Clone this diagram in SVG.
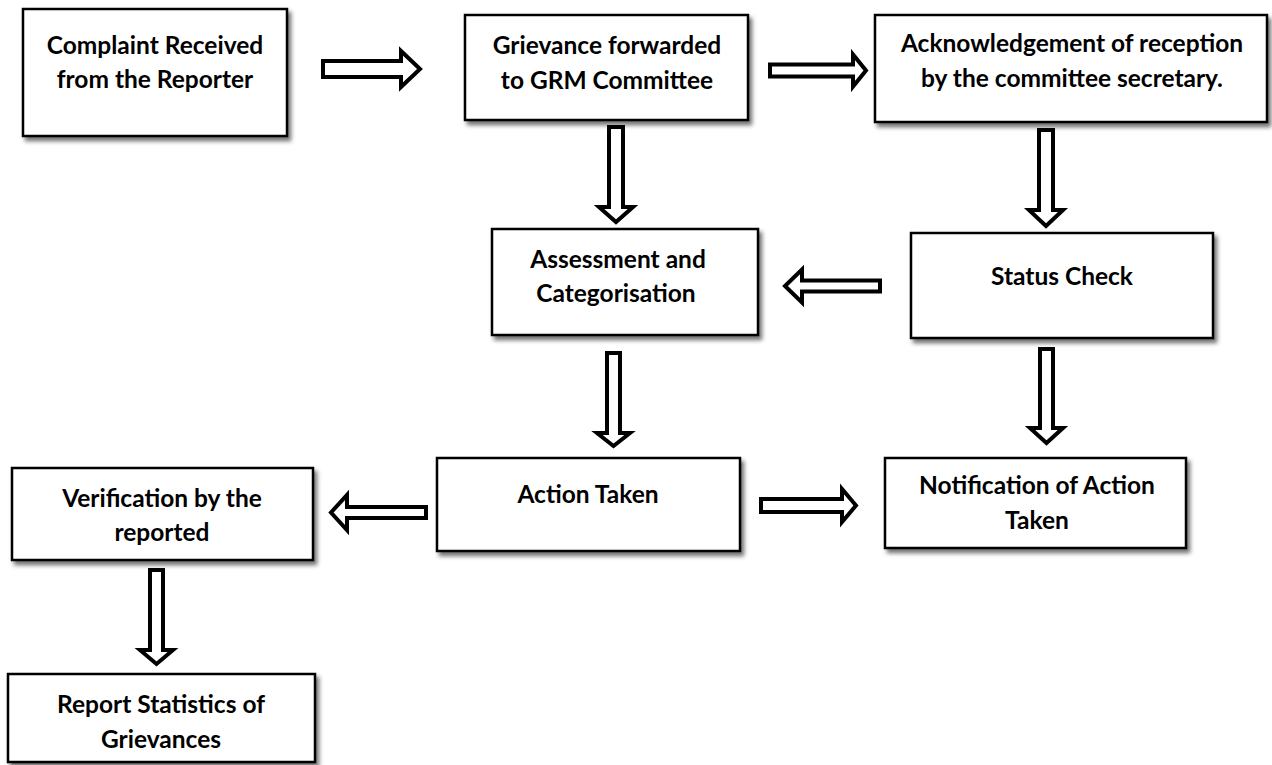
<svg xmlns="http://www.w3.org/2000/svg" width="1272" height="765" viewBox="0 0 1272 765">
<defs>
<filter id="sh" x="-5%" y="-5%" width="115%" height="125%">
<feDropShadow dx="3" dy="4" stdDeviation="2.2" flood-color="#000" flood-opacity="0.55"/>
</filter>
</defs>
<style>
.box{fill:#fff;stroke:#000;stroke-width:2.5;filter:url(#sh)}
.t{font-family:Lato,"Liberation Sans",sans-serif;font-weight:bold;font-size:24.5px;fill:#000;text-anchor:middle}
.arr{fill:#fff;stroke:#000;stroke-width:4;stroke-linejoin:miter;stroke-miterlimit:10}
</style>
<rect width="1272" height="765" fill="#fff"/>
<g id="connectors">
<path class="arr" d="M323,61 L401,61 L401,51 L420,69 L401,87 L401,77 L323,77 Z"/>
<path class="arr" d="M770,64.5 L853,64.5 L853,54.5 L866,70.5 L853,86.5 L853,76.5 L770,76.5 Z"/>
<path class="arr" d="M609,127 L623,127 L623,207 L633,207 L616,222 L599,207 L609,207 Z"/>
<path class="arr" d="M880,280.5 L802,280.5 L802,269.5 L785,286 L802,302.5 L802,291.5 L880,291.5 Z"/>
<path class="arr" d="M1039,130 L1053,130 L1053,210 L1063,210 L1046,226 L1029,210 L1039,210 Z"/>
<path class="arr" d="M1040,349 L1053,349 L1053,428 L1063,428 L1046.5,443 L1030,428 L1040,428 Z"/>
<path class="arr" d="M607,353 L620,353 L620,433 L630,433 L613.5,446 L597,433 L607,433 Z"/>
<path class="arr" d="M761,499 L842,499 L842,489 L856,505.5 L842,522 L842,512 L761,512 Z"/>
<path class="arr" d="M426,507 L347,507 L347,495 L331,512.5 L347,530 L347,518 L426,518 Z"/>
<path class="arr" d="M150,570 L163,570 L163,650 L173,650 L156.5,664 L140,650 L150,650 Z"/>
</g>
<g id="n1"><rect class="box" x="23" y="9" width="264" height="127"/><text class="t" x="155" y="54">Complaint Received</text><text class="t" x="155" y="88">from the Reporter</text></g>
<g id="n2"><rect class="box" x="465" y="15" width="283" height="105"/><text class="t" x="607" y="54">Grievance forwarded</text><text class="t" x="607" y="89">to GRM Committee</text></g>
<g id="n3"><rect class="box" x="875" y="15" width="392" height="107"/><text class="t" x="1072" y="52">Acknowledgement of reception</text><text class="t" x="1072" y="87">by the committee secretary.</text></g>
<g id="n4"><rect class="box" x="492" y="229" width="266" height="106"/><text class="t" x="618" y="268">Assessment and</text><text class="t" x="616" y="302">Categorisation</text></g>
<g id="n5"><rect class="box" x="911" y="233" width="302" height="105"/><text class="t" x="1062" y="285">Status Check</text></g>
<g id="n6"><rect class="box" x="437" y="458" width="303" height="93"/><text class="t" x="588" y="503">Action Taken</text></g>
<g id="n7"><rect class="box" x="885" y="458" width="301" height="90"/><text class="t" x="1037" y="494">Notification of Action</text><text class="t" x="1037" y="529">Taken</text></g>
<g id="n8"><rect class="box" x="12" y="468" width="301" height="92"/><text class="t" x="162" y="507">Verification by the</text><text class="t" x="162" y="541">reported</text></g>
<g id="n9"><rect class="box" x="8" y="674" width="307" height="88"/><text class="t" x="161" y="713">Report Statistics of</text><text class="t" x="161" y="748">Grievances</text></g>
</svg>
